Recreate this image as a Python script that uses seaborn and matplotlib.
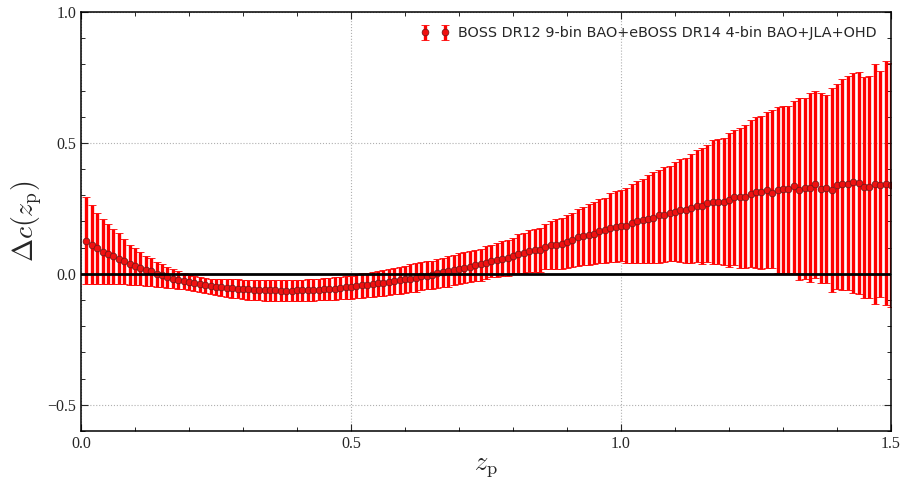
import numpy as np
import pandas as pd
import matplotlib
matplotlib.use("Agg")
import matplotlib.pyplot as plt
from matplotlib.ticker import MultipleLocator
import seaborn as sns

# redshift of each reconstructed point
z_p = [0.01, 0.02, 0.03, 0.04, 0.05, 0.06, 0.07, 0.08, 0.09, 0.10,
       0.11, 0.12, 0.13, 0.14, 0.15, 0.16, 0.17, 0.18, 0.19, 0.20,
       0.21, 0.22, 0.23, 0.24, 0.25, 0.26, 0.27, 0.28, 0.29, 0.30,
       0.31, 0.32, 0.33, 0.34, 0.35, 0.36, 0.37, 0.38, 0.39, 0.40,
       0.41, 0.42, 0.43, 0.44, 0.45, 0.46, 0.47, 0.48, 0.49, 0.50,
       0.51, 0.52, 0.53, 0.54, 0.55, 0.56, 0.57, 0.58, 0.59, 0.60,
       0.61, 0.62, 0.63, 0.64, 0.65, 0.66, 0.67, 0.68, 0.69, 0.70,
       0.71, 0.72, 0.73, 0.74, 0.75, 0.76, 0.77, 0.78, 0.79, 0.80,
       0.81, 0.82, 0.83, 0.84, 0.85, 0.86, 0.87, 0.88, 0.89, 0.90,
       0.91, 0.92, 0.93, 0.94, 0.95, 0.96, 0.97, 0.98, 0.99, 1.00,
       1.01, 1.02, 1.03, 1.04, 1.05, 1.06, 1.07, 1.08, 1.09, 1.10,
       1.11, 1.12, 1.13, 1.14, 1.15, 1.16, 1.17, 1.18, 1.19, 1.20,
       1.21, 1.22, 1.23, 1.24, 1.25, 1.26, 1.27, 1.28, 1.29, 1.30,
       1.31, 1.32, 1.33, 1.34, 1.35, 1.36, 1.37, 1.38, 1.39, 1.40,
       1.41, 1.42, 1.43, 1.44, 1.45, 1.46, 1.47, 1.48, 1.49, 1.50]

# central value of delta c
dc_mid = [0.125, 0.111, 0.097, 0.085, 0.074, 0.067, 0.055, 0.048, 0.037, 0.030,
          0.022, 0.015, 0.010, -0.001, -0.006, -0.013, -0.018, -0.024, -0.026, -0.031,
          -0.036, -0.040, -0.044, -0.046, -0.049,
          -0.052, -0.053, -0.054, -0.056, -0.058, -0.059, -0.060, -0.061, -0.061, -0.062,
          -0.063, -0.064, -0.064, -0.064, -0.063, -0.063, -0.062, -0.061, -0.060, -0.059,
          -0.058, -0.056, -0.054, -0.052, -0.050,
          -0.046, -0.044, -0.043, -0.040, -0.036, -0.034, -0.030, -0.027, -0.025, -0.021,
          -0.018, -0.016, -0.010, -0.007, -0.006, 0.002, 0.007, 0.010, 0.014, 0.020,
          0.024, 0.027, 0.032, 0.037, 0.043,
          0.049, 0.053, 0.058, 0.062, 0.070, 0.077, 0.079, 0.086, 0.090, 0.093,
          0.104, 0.109, 0.112, 0.115, 0.121, 0.130, 0.139, 0.143, 0.150, 0.154,
          0.163, 0.166, 0.176, 0.180, 0.182,
          0.182, 0.195, 0.201, 0.204, 0.208, 0.214, 0.223, 0.224, 0.233, 0.238,
          0.243, 0.243, 0.251, 0.261, 0.261, 0.270, 0.274, 0.275, 0.275, 0.281,
          0.293, 0.293, 0.295, 0.304, 0.313,
          0.312, 0.322, 0.309, 0.319, 0.325, 0.325, 0.335, 0.322, 0.326, 0.328,
          0.342, 0.325, 0.326, 0.319, 0.338, 0.342, 0.344, 0.350, 0.348, 0.331,
          0.332, 0.344, 0.341, 0.345, 0.338]

# top of each error bar
dc_hi = [0.294, 0.264, 0.233, 0.208, 0.190, 0.173, 0.155, 0.134, 0.111, 0.098,
         0.085, 0.068, 0.060, 0.045, 0.037, 0.025, 0.017, 0.011, 0.005, -0.003,
         -0.008, -0.011, -0.015, -0.018, -0.018,
         -0.019, -0.020, -0.021, -0.021, -0.022, -0.023, -0.024, -0.025, -0.025, -0.025,
         -0.025, -0.025, -0.024, -0.024, -0.023, -0.022, -0.021, -0.020, -0.018, -0.016,
         -0.015, -0.013, -0.011, -0.009, -0.007,
         -0.002, 0.002, 0.005, 0.007, 0.011, 0.015, 0.018, 0.022, 0.027, 0.030,
         0.036, 0.043, 0.046, 0.048, 0.051, 0.055, 0.062, 0.068, 0.073, 0.078,
         0.083, 0.087, 0.091, 0.096, 0.106,
         0.112, 0.119, 0.125, 0.131, 0.138, 0.151, 0.157, 0.167, 0.170, 0.176,
         0.191, 0.201, 0.208, 0.214, 0.223, 0.233, 0.246, 0.256, 0.267, 0.275,
         0.287, 0.290, 0.309, 0.316, 0.322,
         0.328, 0.345, 0.354, 0.363, 0.379, 0.388, 0.398, 0.409, 0.413, 0.428,
         0.440, 0.443, 0.458, 0.472, 0.481, 0.492, 0.513, 0.515, 0.519, 0.538,
         0.551, 0.557, 0.569, 0.586, 0.599,
         0.601, 0.620, 0.624, 0.637, 0.642, 0.642, 0.662, 0.671, 0.671, 0.690,
         0.700, 0.690, 0.684, 0.710, 0.726, 0.744, 0.754, 0.767, 0.771, 0.751,
         0.756, 0.802, 0.773, 0.811, 0.805]

# bottom of each error bar
dc_lo = [-0.040, -0.040, -0.038, -0.038, -0.038, -0.039, -0.039, -0.040, -0.041, -0.042,
         -0.044, -0.046, -0.047, -0.049, -0.050, -0.053, -0.055, -0.057, -0.059, -0.062,
         -0.066, -0.069, -0.073, -0.077, -0.082,
         -0.086, -0.089, -0.091, -0.094, -0.096, -0.098, -0.100, -0.101, -0.102, -0.103,
         -0.104, -0.104, -0.104, -0.104, -0.104, -0.103, -0.103, -0.102, -0.101, -0.100,
         -0.099, -0.098, -0.097, -0.096, -0.095,
         -0.093, -0.091, -0.089, -0.087, -0.086, -0.085, -0.081, -0.078, -0.075, -0.072,
         -0.070, -0.068, -0.063, -0.059, -0.056, -0.053, -0.051, -0.049, -0.044, -0.040,
         -0.035, -0.031, -0.028, -0.026, -0.021,
         -0.013, -0.011, -0.008, -0.008, -0.002, 0.002, 0.004, 0.007, 0.007, 0.008,
         0.017, 0.020, 0.020, 0.020, 0.021, 0.026, 0.030, 0.032, 0.032, 0.036,
         0.040, 0.040, 0.045, 0.045, 0.048,
         0.040, 0.043, 0.043, 0.043, 0.043, 0.040, 0.043, 0.047, 0.049, 0.049,
         0.047, 0.040, 0.040, 0.045, 0.036, 0.045, 0.036, 0.036, 0.032, 0.027,
         0.032, 0.024, 0.021, 0.027, 0.024,
         0.017, 0.024, 0.024, 0.004, 0.004, 0.002, 0.004, -0.023, -0.021, -0.031,
         -0.016, -0.036, -0.034, -0.069, -0.056, -0.062, -0.062, -0.074, -0.078, -0.091,
         -0.091, -0.116, -0.087, -0.120, -0.125]

label = 'BOSS DR12 9-bin BAO+eBOSS DR14 4-bin BAO+JLA+OHD'

df = pd.DataFrame({'z': z_p, 'mid': dc_mid, 'hi': dc_hi, 'lo': dc_lo})
df['err_up'] = df['hi'] - df['mid']
df['err_dn'] = df['mid'] - df['lo']

sns.set_style('ticks')
plt.rcParams['font.family'] = ['Liberation Serif', 'DejaVu Serif']
plt.rcParams['mathtext.fontset'] = 'cm'
plt.rcParams['xtick.direction'] = 'in'
plt.rcParams['ytick.direction'] = 'in'

fig = plt.figure(figsize=(9.06, 4.86), dpi=100)
ax = fig.add_axes([0.0894, 0.1132, 0.8940, 0.8621])

ax.errorbar(df['z'], df['mid'], yerr=[df['err_dn'], df['err_up']],
            fmt='o', color='#ff0000', ecolor='#ff0000', elinewidth=2.4,
            capsize=2.6, capthick=1.6, markersize=4.8,
            markerfacecolor='#f01010', markeredgecolor='#7a1818',
            markeredgewidth=0.6, label=label, zorder=2)
ax.axhline(0, color='black', lw=2.0, zorder=3)

ax.set_xlim(0, 1.5)
ax.set_ylim(-0.6, 1.0)
ax.xaxis.set_major_locator(MultipleLocator(0.5))
ax.xaxis.set_minor_locator(MultipleLocator(0.1))
ax.yaxis.set_major_locator(MultipleLocator(0.5))
ax.yaxis.set_minor_locator(MultipleLocator(0.1))
ax.tick_params(which='both', top=True, right=True, direction='in', labelsize=11.5)
ax.tick_params(which='major', length=5, width=0.8)
ax.tick_params(which='minor', length=3, width=0.7)
ax.grid(True, which='major', ls=':', color='#b0b0b0', lw=0.8)
for s in ax.spines.values():
    s.set_linewidth(1.1)
    s.set_color('black')

ax.set_xlabel(r'$z_{\rm p}$', fontsize=19, labelpad=3)
ax.set_ylabel(r'$\Delta c(z_{\rm p})$', fontsize=20, labelpad=2)

leg = ax.legend(loc='upper right', frameon=False, numpoints=2, handlelength=2.0,
                handletextpad=0.6, prop={'family': 'DejaVu Sans', 'size': 10.4},
                borderaxespad=0.6)

fig.savefig('out.png', dpi=100)
